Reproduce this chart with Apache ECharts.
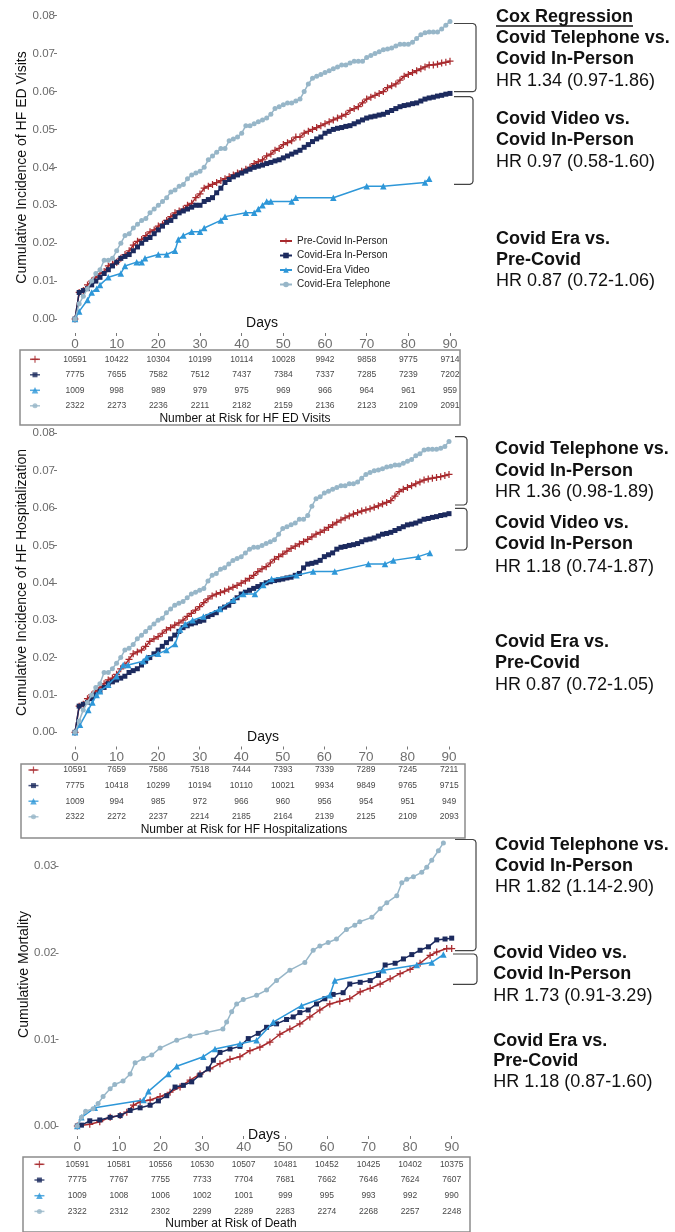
<!DOCTYPE html>
<html>
<head>
<meta charset="utf-8">
<script src="https://cdn.jsdelivr.net/npm/echarts@6/dist/echarts.min.js"></script>
<style>
html,body{margin:0;padding:0;background:#fff;}
#chart{width:675px;height:1232px;}
</style>
</head>
<body>
<div id="chart"></div>
<script>
var FONT = '"Liberation Sans", Arial, sans-serif';
var groups = ['Pre-Covid In-Person', 'Covid-Era In-Person', 'Covid-Era Video', 'Covid-Era Telephone'];
var colors = ['#a8292d', '#1c2a5e', '#2e97d8', '#97b6c8'];
var dayTicks = [0, 10, 20, 30, 40, 50, 60, 70, 80, 90];

// HF ED visits: cumulative incidence by day (index = day)
var edPre = [0,0.007,0.0075,0.009,0.010,0.011,0.012,0.0125,0.014,0.0145,
  0.015,0.016,0.017,0.018,0.0195,0.0205,0.021,0.022,0.023,0.0235,
  0.0245,0.025,0.026,0.027,0.028,0.0285,0.029,0.030,0.0305,0.032,
  0.033,0.0345,0.035,0.0355,0.036,0.0365,0.037,0.0375,0.038,0.0385,
  0.039,0.0395,0.040,0.041,0.0415,0.042,0.043,0.0435,0.0445,0.045,
  0.046,0.0465,0.047,0.048,0.048,0.049,0.0495,0.050,0.0505,0.051,
  0.0515,0.052,0.0525,0.053,0.0535,0.054,0.055,0.0555,0.056,0.057,
  0.058,0.0585,0.059,0.0595,0.060,0.061,0.0615,0.062,0.063,0.064,
  0.0645,0.065,0.0655,0.066,0.0665,0.067,0.067,0.0672,0.0675,0.0677,
  0.068];
var edInPerson = [0,0.007,0.0075,0.008,0.009,0.010,0.011,0.012,0.013,0.014,
  0.015,0.016,0.0165,0.017,0.018,0.019,0.020,0.021,0.0215,0.0225,
  0.0235,0.0245,0.0255,0.026,0.027,0.028,0.0285,0.029,0.0295,0.030,
  0.030,0.031,0.0315,0.032,0.0333,0.0345,0.036,0.0368,0.0375,0.038,
  0.0385,0.039,0.0395,0.040,0.0403,0.0406,0.041,0.0413,0.0417,0.042,
  0.0425,0.043,0.0435,0.044,0.0445,0.0453,0.046,0.0468,0.0475,0.048,
  0.049,0.0495,0.050,0.0503,0.0505,0.0508,0.051,0.0515,0.052,0.0525,
  0.053,0.0533,0.0535,0.0538,0.054,0.0545,0.055,0.0555,0.056,0.0563,
  0.0565,0.0568,0.057,0.0575,0.058,0.0583,0.0585,0.0588,0.059,0.0593,
  0.0595];
var edVideo = [[0,0],[1,0.002],[3,0.005],[4,0.007],[5.2,0.008],[6,0.009],[8,0.011],[11,0.012],[12,0.014],
  [14.8,0.015],[16,0.015],[16.8,0.016],[20,0.017],[22,0.017],[24,0.018],[24.8,0.021],[26,0.022],[28,0.023],
  [30,0.023],[31,0.024],[35,0.026],[36,0.027],[41,0.028],[43,0.028],[44,0.029],[45,0.030],[46,0.031],
  [47,0.031],[52,0.031],[53,0.032],[62,0.032],[70,0.035],[74,0.035],[84,0.036],[85,0.037]];
var edTel = [0,0.004,0.006,0.008,0.010,0.012,0.013,0.0155,0.0155,0.016,
  0.018,0.020,0.022,0.0225,0.024,0.025,0.026,0.0265,0.028,0.029,
  0.030,0.031,0.032,0.0335,0.034,0.035,0.0355,0.037,0.038,0.0385,
  0.039,0.040,0.042,0.043,0.044,0.045,0.045,0.047,0.0475,0.048,
  0.049,0.051,0.051,0.0515,0.052,0.0525,0.053,0.054,0.0555,0.056,
  0.0565,0.057,0.057,0.0575,0.058,0.060,0.062,0.0635,0.064,0.0645,
  0.065,0.0655,0.066,0.0665,0.067,0.067,0.0675,0.068,0.068,0.068,
  0.069,0.0695,0.070,0.0705,0.071,0.0712,0.0715,0.072,0.0725,0.0725,
  0.0725,0.073,0.074,0.075,0.0755,0.0757,0.0757,0.0757,0.0765,0.0775,
  0.0785];

// HF hospitalization
var hospPre = [0,0.007,0.0075,0.009,0.010,0.011,0.012,0.013,0.014,0.0145,
  0.0155,0.017,0.018,0.0195,0.021,0.0215,0.022,0.023,0.0243,0.025,
  0.0256,0.0265,0.0274,0.028,0.0287,0.0293,0.030,0.031,0.0318,0.0327,
  0.0336,0.0347,0.0357,0.0365,0.037,0.0374,0.0378,0.0383,0.0388,0.0393,
  0.0399,0.0405,0.0412,0.042,0.043,0.0437,0.0443,0.0453,0.0463,0.047,
  0.0477,0.0485,0.0492,0.0498,0.0504,0.051,0.0516,0.0523,0.053,0.0535,
  0.0541,0.0548,0.0555,0.0562,0.0568,0.0574,0.0579,0.0584,0.0588,0.0592,
  0.0595,0.0598,0.0602,0.0606,0.0611,0.0615,0.062,0.0632,0.0644,0.065,
  0.0655,0.066,0.0665,0.067,0.0675,0.0678,0.068,0.0682,0.0684,0.0687,
  0.069];
var hospInPerson = [0,0.007,0.0075,0.008,0.009,0.010,0.011,0.012,0.013,0.0135,
  0.014,0.0145,0.015,0.016,0.0165,0.017,0.018,0.019,0.020,0.021,
  0.022,0.023,0.024,0.025,0.026,0.027,0.028,0.0285,0.029,0.0293,
  0.0297,0.030,0.031,0.0315,0.032,0.033,0.0335,0.034,0.035,0.036,
  0.037,0.0375,0.038,0.0385,0.039,0.0395,0.040,0.0403,0.0406,0.0408,
  0.041,0.0413,0.0415,0.042,0.0425,0.044,0.045,0.0452,0.0455,0.046,
  0.047,0.0475,0.048,0.049,0.0495,0.0497,0.050,0.0502,0.0505,0.051,
  0.0515,0.0517,0.052,0.0525,0.053,0.0532,0.0535,0.054,0.0545,0.055,
  0.0555,0.0557,0.056,0.0565,0.057,0.0572,0.0575,0.0577,0.058,0.0582,
  0.0585];
var hospVideo = [[0,0],[1.2,0.002],[3.2,0.006],[4.2,0.008],[5.2,0.010],[6,0.011],[8,0.0127],[10,0.015],
  [11.6,0.018],[12.8,0.018],[16.4,0.019],[17.2,0.020],[20,0.021],[22,0.022],[24.1,0.0236],[25.3,0.0275],
  [26.5,0.029],[28.3,0.030],[30.9,0.031],[34.9,0.033],[38.1,0.0354],[40.5,0.037],[43.3,0.037],[45.3,0.0394],
  [47.3,0.041],[53.3,0.042],[57.3,0.043],[62.5,0.043],[70.6,0.045],[74.6,0.045],[76.6,0.046],[82.6,0.047],[85.4,0.048]];
var hospTel = [0,0.003,0.006,0.008,0.010,0.012,0.013,0.016,0.016,0.017,
  0.0185,0.020,0.022,0.0225,0.0235,0.025,0.026,0.027,0.028,0.029,
  0.030,0.0305,0.032,0.033,0.034,0.0345,0.035,0.036,0.037,0.0375,
  0.038,0.0385,0.0405,0.042,0.0425,0.0436,0.044,0.045,0.046,0.0465,
  0.047,0.048,0.049,0.0495,0.0495,0.050,0.0505,0.051,0.0515,0.053,
  0.0545,0.055,0.0555,0.056,0.057,0.057,0.058,0.0605,0.0625,0.063,
  0.064,0.0645,0.065,0.0655,0.066,0.066,0.0665,0.0665,0.067,0.068,
  0.069,0.0695,0.070,0.0702,0.0705,0.071,0.0712,0.0715,0.0715,0.072,
  0.0725,0.073,0.074,0.0745,0.0755,0.0757,0.0757,0.0757,0.076,0.0765,
  0.0778];

// mortality: [day, cumulative]
var deathPre = [[0,0],[3,0.0002],[5.4,0.0005],[7.9,0.001],[10.3,0.0012],[11.9,0.0016],[13.5,0.0024],[15.1,0.0028],
  [17.5,0.003],[19.9,0.0034],[22.3,0.0039],[24.7,0.0045],[27.1,0.0053],[29.5,0.006],[31.9,0.0066],[34.3,0.0072],
  [36.7,0.0077],[39.1,0.008],[41.5,0.0087],[43.9,0.0091],[46.3,0.0097],[48.7,0.0106],[51.1,0.0112],[53.5,0.0118],
  [55.9,0.0126],[58.3,0.0134],[60.7,0.0141],[63.1,0.0144],[65.5,0.0147],[68,0.0155],[70.4,0.0159],[72.8,0.0164],
  [75.2,0.017],[77.6,0.0176],[80,0.0181],[82.4,0.0188],[84.8,0.0197],[86.4,0.0201],[88.8,0.0205],[90,0.0205]];
var deathInPerson = [[0,0],[1,0.0001],[3,0.0006],[5.4,0.0007],[7.9,0.001],[10.3,0.0012],[12.7,0.0018],[15.1,0.0021],
  [17.5,0.0024],[19.5,0.0029],[21.5,0.0035],[23.5,0.0045],[25.5,0.0047],[27.5,0.0051],[29.5,0.0059],[31.5,0.0066],
  [32.7,0.0076],[34.3,0.0085],[36.7,0.0089],[39.1,0.0092],[41.1,0.0101],[43.5,0.0107],[45.5,0.0114],[47.9,0.0118],
  [50.3,0.0123],[51.9,0.0126],[53.5,0.0131],[55.5,0.0134],[57.5,0.0141],[59.5,0.0147],[61.5,0.0152],[63.9,0.0154],
  [65.5,0.0164],[68,0.0166],[70.4,0.0168],[72.4,0.0174],[74,0.0186],[76.4,0.0188],[78.4,0.0193],[80.4,0.0198],
  [82.4,0.0203],[84.4,0.0207],[86.4,0.0215],[88.4,0.0216],[90,0.0217]];
var deathVideo = [[0,0],[1,0.001],[4.2,0.0021],[15.9,0.003],[17.1,0.004],[21.9,0.006],[23.9,0.0069],[30.3,0.008],
  [33.1,0.0089],[39.1,0.0095],[43.1,0.0099],[47.1,0.012],[53.9,0.0139],[60.7,0.0151],[61.9,0.0168],[73.6,0.018],
  [81.6,0.0186],[85.2,0.0189],[88,0.0198]];
var deathTel = [[0,0],[1,0.001],[2,0.0017],[3.8,0.002],[5,0.0026],[6.2,0.0034],[7.9,0.0043],[9,0.0048],[11,0.0052],
  [12.7,0.006],[13.9,0.0073],[15.9,0.0078],[17.9,0.0082],[19.9,0.009],[23.9,0.0099],[27.1,0.0104],[31.1,0.0108],
  [35,0.0112],[35.9,0.012],[37.1,0.0132],[38.3,0.0141],[39.9,0.0146],[43.1,0.0151],[45.5,0.0157],[47.9,0.0168],
  [51.1,0.018],[54.7,0.0189],[56.7,0.0203],[58.3,0.0208],[60.3,0.0212],[62.3,0.0216],[64.7,0.0227],[66.7,0.0232],
  [67.9,0.0236],[70.8,0.0241],[72.8,0.0251],[74.4,0.0258],[76.8,0.0266],[78,0.0281],[79.2,0.0285],[80.8,0.0288],
  [82.8,0.0293],[84,0.0299],[85.2,0.0307],[86.8,0.0318],[88,0.0327]];

// numbers at risk (rows follow groups order)
var riskED = [
  [10591,10422,10304,10199,10114,10028,9942,9858,9775,9714],
  [7775,7655,7582,7512,7437,7384,7337,7285,7239,7202],
  [1009,998,989,979,975,969,966,964,961,959],
  [2322,2273,2236,2211,2182,2159,2136,2123,2109,2091]];
var riskHosp = [
  [10591,7659,7586,7518,7444,7393,7339,7289,7245,7211],
  [7775,10418,10299,10194,10110,10021,9934,9849,9765,9715],
  [1009,994,985,972,966,960,956,954,951,949],
  [2322,2272,2237,2214,2185,2164,2139,2125,2109,2093]];
var riskDeath = [
  [10591,10581,10556,10530,10507,10481,10452,10425,10402,10375],
  [7775,7767,7755,7733,7704,7681,7662,7646,7624,7607],
  [1009,1008,1006,1002,1001,999,995,993,992,990],
  [2322,2312,2302,2299,2289,2283,2274,2268,2257,2248]];

var plusPath = 'path://M3.3,0h1.4v3.3h3.3v1.4h-3.3v3.3h-1.4v-3.3h-3.3v-1.4h3.3z';
var symbols = [plusPath, 'rect', 'triangle', 'circle'];
var symbolSizes = [7, 5, 6.5, 5];

function byDay(arr) { return arr.map(function (v, i) { return [i, v]; }); }

// layout of the three panels: plot grid, where the axes sit, risk table
var panels = [
  { plot: {left: 75, top: 15.7, width: 375, height: 303.3}, ymax: 0.08, yAxisX: 57, xAxisY: 333,
    table: {left: 20, top: 350, width: 440, height: 75}, tx: [-13.2, 92.4], ty: [-0.6, 4.24], keyX: -9.6,
    lines: [byDay(edPre), byDay(edInPerson), edVideo, byDay(edTel)], risk: riskED,
    yTitle: 'Cumulative Incidence of HF ED Visits', yTitlePos: [21.7, 167.5], daysPos: [262, 323],
    tableTitle: 'Number at Risk for HF ED Visits', tableTitlePos: [245, 419] },
  { plot: {left: 75, top: 433.3, width: 374, height: 299}, ymax: 0.08, yAxisX: 57, xAxisY: 746.5,
    table: {left: 21, top: 764, width: 444, height: 74}, tx: [-13.0, 93.8], ty: [-0.385, 4.36], keyX: -10,
    lines: [byDay(hospPre), byDay(hospInPerson), hospVideo, byDay(hospTel)], risk: riskHosp,
    yTitle: 'Cumulative Incidence of HF Hospitalization', yTitlePos: [22, 582.5], daysPos: [263, 737.3],
    tableTitle: 'Number at Risk for HF Hospitalizations', tableTitlePos: [244, 830] },
  { plot: {left: 77.3, top: 836, width: 374.4, height: 290}, ymax: 0.0335, yAxisX: 58.5, xAxisY: 1136,
    table: {left: 23, top: 1157, width: 447, height: 75}, tx: [-13.05, 94.4], ty: [-0.465, 4.31], keyX: -9.1,
    lines: [deathPre, deathInPerson, deathVideo, deathTel], risk: riskDeath,
    yTitle: 'Cumulative Mortality', yTitlePos: [24, 974.5], daysPos: [264, 1135],
    tableTitle: 'Number at Risk of Death', tableTitlePos: [231, 1223.7] }
];

var grids = [], xAxes = [], yAxes = [], series = [], graphics = [];
var tickStyle = {show: true, length: 3, lineStyle: {color: '#777'}};

function addGrid(g, xa, ya) {
  var i = grids.length;
  grids.push(g);
  xa.gridIndex = i; ya.gridIndex = i;
  xAxes.push(xa); yAxes.push(ya);
  return i;
}

panels.forEach(function (p) {
  // data area
  var gi = addGrid(p.plot,
    {type: 'value', min: 0, max: 90, show: false},
    {type: 'value', min: 0, max: p.ymax, show: false});
  // y axis labels/ticks, set left of the data area like ggplot's expanded panel;
  // it spans only up to the last whole tick so no extra edge tick is drawn
  var yTop = Math.floor(p.ymax * 100 + 1e-6) / 100;
  var yAxisH = p.plot.height * yTop / p.ymax;
  addGrid({left: p.yAxisX, top: p.plot.top + p.plot.height - yAxisH, width: 1, height: yAxisH},
    {type: 'value', min: 0, max: 1, show: false},
    {type: 'value', min: 0, max: yTop, interval: 0.01,
      axisLine: {show: false}, splitLine: {show: false}, axisTick: tickStyle,
      axisLabel: {margin: 2, color: '#6a6a6a', fontSize: 11.5, fontFamily: FONT,
        formatter: function (v) { return v.toFixed(2); }}});
  // x axis labels/ticks below "Days"
  addGrid({left: p.plot.left, top: p.xAxisY - 1, width: p.plot.width, height: 1},
    {type: 'value', min: 0, max: 90, interval: 10,
      axisLine: {show: false}, splitLine: {show: false}, axisTick: tickStyle,
      axisLabel: {margin: 4, color: '#707070', fontSize: 13.5, fontFamily: FONT}},
    {type: 'value', min: 0, max: 1, show: false});
  // risk table box
  var ti = addGrid(Object.assign({show: true, borderColor: '#8c8c8c', borderWidth: 1.5, backgroundColor: 'transparent'}, p.table),
    {type: 'value', min: p.tx[0], max: p.tx[1], show: false},
    {type: 'value', inverse: true, min: p.ty[0], max: p.ty[1], show: false});

  p.lines.forEach(function (data, j) {
    series.push({
      name: groups[j], type: 'line', xAxisIndex: gi, yAxisIndex: gi, data: data,
      symbol: symbols[j], symbolSize: symbolSizes[j], showAllSymbol: true,
      lineStyle: {color: colors[j], width: 1.5}, itemStyle: {color: colors[j]},
      emphasis: {disabled: true}, z: 2 + j
    });
  });

  // number-at-risk cells
  var cells = [];
  p.risk.forEach(function (row, r) {
    row.forEach(function (n, c) { cells.push([dayTicks[c], r, n]); });
  });
  series.push({
    type: 'scatter', xAxisIndex: ti, yAxisIndex: ti, data: cells, symbolSize: 0, silent: true,
    label: {show: true, position: 'inside', color: '#111', fontSize: 8.5, fontFamily: FONT,
      formatter: function (q) { return q.value[2]; }}
  });
  // row keys: short line + group symbol
  series.push({
    type: 'scatter', xAxisIndex: ti, yAxisIndex: ti, silent: true, clip: false,
    data: groups.map(function (g, r) {
      return {value: [p.keyX, r], symbol: 'rect', symbolSize: [10, 1.5], itemStyle: {color: colors[r]}};
    })
  });
  series.push({
    type: 'scatter', xAxisIndex: ti, yAxisIndex: ti, silent: true, clip: false,
    data: groups.map(function (g, r) {
      return {value: [p.keyX, r], symbol: symbols[r], symbolSize: symbolSizes[r], itemStyle: {color: colors[r]}};
    })
  });

  graphics.push({type: 'text', x: p.yTitlePos[0], y: p.yTitlePos[1], rotation: Math.PI / 2,
    style: {text: p.yTitle, align: 'center', verticalAlign: 'middle', fontSize: 14, fontFamily: FONT, fill: '#111'}});
  graphics.push({type: 'text', x: p.daysPos[0], y: p.daysPos[1],
    style: {text: 'Days', align: 'center', verticalAlign: 'middle', fontSize: 14, fontFamily: FONT, fill: '#111'}});
  graphics.push({type: 'text', x: p.tableTitlePos[0], y: p.tableTitlePos[1],
    style: {text: p.tableTitle, align: 'center', verticalAlign: 'middle', fontSize: 12, fontFamily: FONT, fill: '#111'}});
});

// right-hand Cox regression notes: [text, x, y, bold]
var notes = [
  ['Cox Regression', 496, 17, true],
  ['Covid Telephone vs.', 496, 38.3, true], ['Covid In-Person', 496, 59.3, true], ['HR 1.34 (0.97-1.86)', 496, 81, false],
  ['Covid Video vs.', 496, 119, true], ['Covid In-Person', 496, 140.3, true], ['HR 0.97 (0.58-1.60)', 496, 162.3, false],
  ['Covid Era vs.', 496, 239, true], ['Pre-Covid', 496, 259.6, true], ['HR 0.87 (0.72-1.06)', 496, 281, false],
  ['Covid Telephone vs.', 495, 449.3, true], ['Covid In-Person', 495, 470.7, true], ['HR 1.36 (0.98-1.89)', 495, 491.7, false],
  ['Covid Video vs.', 495, 523.3, true], ['Covid In-Person', 495, 544.3, true], ['HR 1.18 (0.74-1.87)', 495, 566.7, false],
  ['Covid Era vs.', 495, 641.7, true], ['Pre-Covid', 495, 662.7, true], ['HR 0.87 (0.72-1.05)', 495, 685, false],
  ['Covid Telephone vs.', 495, 845, true], ['Covid In-Person', 495, 866, true], ['HR 1.82 (1.14-2.90)', 495, 887.3, false],
  ['Covid Video vs.', 493.3, 953.3, true], ['Covid In-Person', 493.3, 974, true], ['HR 1.73 (0.91-3.29)', 493.3, 996, false],
  ['Covid Era vs.', 493.3, 1040.7, true], ['Pre-Covid', 493.3, 1060.7, true], ['HR 1.18 (0.87-1.60)', 493.3, 1081.7, false]
];
notes.forEach(function (n) {
  graphics.push({type: 'text', x: n[1], y: n[2],
    style: {text: n[0], align: 'left', verticalAlign: 'middle', fontSize: 18, fontWeight: n[3] ? 'bold' : 'normal',
      fontFamily: FONT, fill: '#111'}});
});
graphics.push({type: 'line', shape: {x1: 496, y1: 26, x2: 633, y2: 26}, style: {stroke: '#111', lineWidth: 1.3}});

// brackets: [left x, right x, top y, bottom y]
var brackets = [[454, 476, 23.5, 91.7], [454, 473, 96.7, 184.3],
  [455, 467, 436.7, 505], [455, 467, 508.3, 550],
  [455, 476, 839.5, 950.7], [453, 477, 954, 984.3]];
brackets.forEach(function (b) {
  var r = 3;
  graphics.push({type: 'polyline', shape: {points: [
      [b[0], b[2]], [b[1] - r, b[2]], [b[1] - 0.9, b[2] + 0.9], [b[1], b[2] + r],
      [b[1], b[3] - r], [b[1] - 0.9, b[3] - 0.9], [b[1] - r, b[3]], [b[0], b[3]]]},
    style: {stroke: '#444', lineWidth: 1.2, fill: null}});
});

var chart = echarts.init(document.getElementById('chart'), null, {renderer: 'canvas'});
chart.setOption({
  animation: false,
  backgroundColor: '#fff',
  grid: grids,
  xAxis: xAxes,
  yAxis: yAxes,
  legend: {
    data: groups, orient: 'vertical', left: 274, top: 231, itemWidth: 12, itemHeight: 7, itemGap: 4.5,
    selectedMode: false, textStyle: {fontSize: 10, color: '#222', fontFamily: FONT}
  },
  series: series,
  graphic: graphics
});
</script>
</body>
</html>
